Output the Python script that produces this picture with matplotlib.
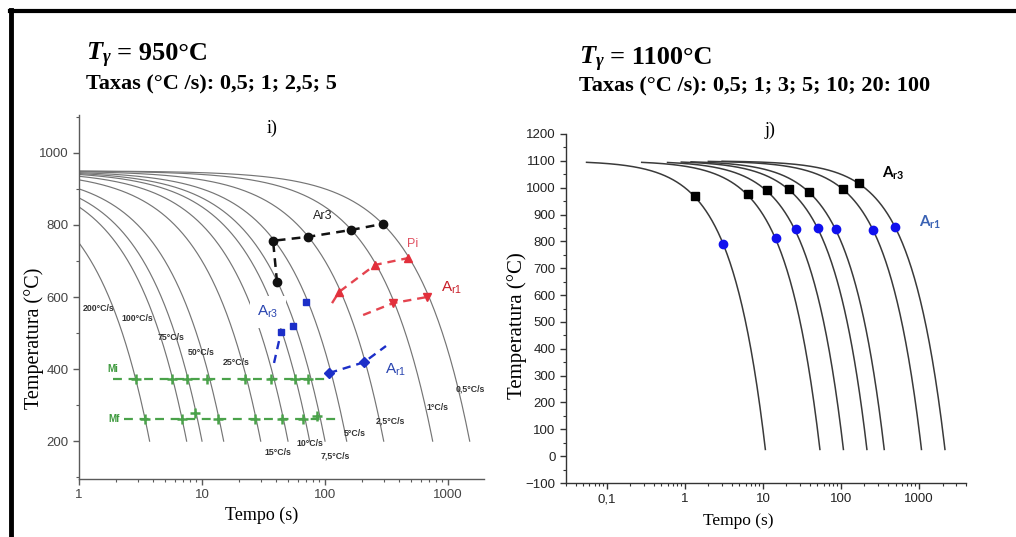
import matplotlib
matplotlib.use("Agg")
import matplotlib.pyplot as plt
import numpy as np
from matplotlib.lines import Line2D
from matplotlib.ticker import FixedLocator, FixedFormatter, LogLocator, MultipleLocator, NullFormatter

plt.rcParams.update({
    "font.family": "Liberation Sans",
    "axes.spines.top": False,
    "axes.spines.right": False,
    "xtick.direction": "out",
    "ytick.direction": "out",
})

# ---- austenitized at 950 C (CCT diagram) ----
T0_950 = 950.0
T_END_950 = 200.0
RATES_950 = [200, 100, 75, 50, 25, 15, 10, 7.5, 5, 2.5, 1, 0.5]
RATE_LABELS_950 = ["200°C/s", "100°C/s", "75°C/s", "50°C/s", "25°C/s", "15°C/s",
                   "10°C/s", "7,5°C/s", "5°C/s", "2,5°C/s", "1°C/s", "0,5°C/s"]

AR3_950_T = [40.7, 37.8, 72.8, 162.6, 296]
AR3_950_Y = [642, 756, 767, 786, 803]
PI_950_T = [130, 255, 473]
PI_950_Y = [614, 689, 708]
AR1R_950_T = [357, 675]
AR1R_950_Y = [583, 600]
AR3B_950_T = [43.9, 55.0, 70.1]
AR3B_950_Y = [503, 519, 586]
AR1B_950_T = [108, 207.5]
AR1B_950_Y = [389, 419]
MI_950 = 372
MI_950_T = [2.9, 5.7, 7.5, 11.0, 22.4, 36.5, 56.5, 72.6]
MF_950 = 261
MF_950_T = [3.44, 6.87, 8.76, 13.5, 27.0, 45.0, 66.0, 86.0]
MF_950_Y = [261, 261, 277, 261, 261, 261, 261, 269]

# ---- austenitized at 1100 C ----
T0_1100 = 1100.0
T_END_1100 = 25.0
RATES_1100 = [100, 20, 10, 5, 3, 1, 0.5]
START_1100 = [0.055, 0.28, 0.6, 0.9, 1.2, 2.0, 3.0]
AR3_1100_T = [1.34, 6.42, 11.2, 21.5, 38.9, 106, 170]
AR3_1100_Y = [969, 976, 991, 995, 984, 995, 1017]
AR1_1100_T = [3.07, 14.7, 26.5, 50.7, 86.3, 257, 491]
AR1_1100_Y = [790, 812, 846, 850, 846, 842, 853]

X_TICKS_950 = [1, 10, 100, 1000]
X_TICKLABELS_950 = ["1", "10", "100", "1000"]
X_TICKS_1100 = [0.1, 1, 10, 100, 1000]
X_TICKLABELS_1100 = ["0,1", "1", "10", "100", "1000"]

W, H = 1016, 537
fig = plt.figure(figsize=(W / 100, H / 100), dpi=100)


def px_axes(x0, x1, ytop, ybot):
    return fig.add_axes([x0 / W, 1 - ybot / H, (x1 - x0) / W, (ybot - ytop) / H])


def ftext(x, y, s, **kw):
    return fig.text(x / W, 1 - y / H, s, **kw)


def cooling(ax, t0, tstart, rate, tend, **kw):
    t = np.logspace(np.log10(tstart), np.log10((t0 - tend) / rate), 300)
    ax.plot(t, t0 - rate * t, **kw)


serif = "Liberation Serif"

# ---------------- left panel ----------------
axl = px_axes(79, 484, 115, 479)
grey = "#5a5a5a"
for r in RATES_950:
    cooling(axl, T0_950, 1.0, r, T_END_950, color="#757575", lw=0.85, zorder=1)

axl.set_xscale("log")
axl.set_xlim(1, 1960)
axl.set_ylim(95, 1105)
axl.xaxis.set_major_locator(FixedLocator(X_TICKS_950))
axl.xaxis.set_major_formatter(FixedFormatter(X_TICKLABELS_950))
axl.xaxis.set_minor_locator(LogLocator(base=10, subs=np.arange(2, 10)))
axl.xaxis.set_minor_formatter(NullFormatter())
axl.yaxis.set_major_locator(MultipleLocator(200))
axl.yaxis.set_minor_locator(MultipleLocator(100))
for sp in ("left", "bottom"):
    axl.spines[sp].set_color(grey)
    axl.spines[sp].set_linewidth(1.0)
axl.tick_params(which="major", length=4, width=1.0, color=grey, labelcolor="#444444", labelsize=9.5)
axl.tick_params(which="minor", length=2.5, width=0.8, color=grey)
ftext(262, 515, "Tempo (s)", family=serif, fontsize=13, ha="center", va="center")
ftext(34, 338, "Temperatura (°C)", family=serif, fontsize=14.5, ha="center", va="center",
      rotation=90)

lab_pos = [(1.45, 567), (2.96, 539), (5.6, 489), (9.8, 447), (18.9, 417), (41.5, 169),
           (75.5, 194), (120.5, 158), (175, 222), (337, 256), (814, 294), (1510, 344)]
for (tx, ty), s in zip(lab_pos, RATE_LABELS_950):
    axl.text(tx, ty, s, fontsize=6.3, fontweight="bold", color="#333333",
             ha="center", va="center", zorder=4)

dash = (0, (3.5, 2.5))
axl.plot(AR3_950_T, AR3_950_Y, color="#111111", lw=1.8, ls=dash, zorder=3)
axl.plot(AR3_950_T, AR3_950_Y, "o", color="#111111", ms=6, zorder=4)
axl.text(96, 825, "Ar3", fontsize=9, color="#222222", ha="center", va="center")

red = "#e2303c"
axl.plot([114] + PI_950_T, [583] + PI_950_Y, color=red, lw=1.7, ls=dash, alpha=0.9, zorder=3)
axl.plot(PI_950_T, PI_950_Y, "^", color=red, ms=6, zorder=4)
axl.text(519, 747, "Pi", fontsize=9, color="#e05060", ha="center", va="center")
axl.plot([204] + AR1R_950_T, [550] + AR1R_950_Y, color=red, lw=1.7, ls=dash, alpha=0.9, zorder=3)
axl.plot(AR1R_950_T, AR1R_950_Y, "v", color=red, ms=6, zorder=4)
axl.text(1078, 625, r"$\mathregular{A_{r1}}$", fontsize=11, color="#c81e28",
         ha="center", va="center")

blue = "#1c2fc8"
axl.plot([38.5] + AR3B_950_T[:1], [417] + AR3B_950_Y[:1], color=blue, lw=1.7, ls=dash, zorder=3)
axl.plot(AR3B_950_T, AR3B_950_Y, "s", color=blue, ms=5, zorder=4)
axl.text(34.4, 558, r"$\mathregular{A_{r3}}$", fontsize=11, color="#2a45b0",
         ha="center", va="center", zorder=5,
         bbox=dict(boxstyle="square,pad=0.5", fc="white", ec="none"))

green = "#4aa24a"
axl.plot([1.89, 110], [MI_950, MI_950], color=green, lw=1.6, ls=(0, (4, 3)), zorder=3)
axl.plot(MI_950_T, [MI_950] * len(MI_950_T), "+", color=green, ms=7, mew=1.8, zorder=4)
axl.text(1.89, 400, "Mi", fontsize=7, fontweight="bold", color="#3f9a3f", ha="center", va="center")
axl.plot([2.32, 125], [MF_950, MF_950], color=green, lw=1.6, ls=(0, (4, 3)), zorder=3)
axl.plot(MF_950_T, MF_950_Y, "+", color=green, ms=7, mew=1.8, zorder=4)
axl.text(1.93, MF_950, "Mf", fontsize=7, fontweight="bold", color="#3f9a3f", ha="center", va="center")

axl.plot(AR1B_950_T + [313], AR1B_950_Y + [464], color=blue, lw=1.7, ls=dash, zorder=3)
axl.plot(AR1B_950_T, AR1B_950_Y, "D", color=blue, ms=5.5, zorder=4)
axl.text(378, 397, r"$\mathregular{A_{r1}}$", fontsize=11, color="#2a45b0",
         ha="center", va="center")

# ---------------- right panel ----------------
axr = px_axes(566, 966, 134, 483)
dark = "#333333"
for r, ts in zip(RATES_1100, START_1100):
    cooling(axr, T0_1100, ts, r, T_END_1100, color="#3a3a3a", lw=1.1, zorder=1)
axr.plot(AR3_1100_T, AR3_1100_Y, "s", color="black", ms=6, zorder=3)
axr.plot(AR1_1100_T, AR1_1100_Y, "o", color="#1010ee", ms=6, zorder=3)
axr.text(464, 1055, r"$\mathregular{A_{r3}}$", fontsize=11, fontweight="bold",
         color="black", ha="center", va="center", family="Lato")
axr.text(1384, 872, r"$\mathregular{A_{r1}}$", fontsize=11, fontweight="bold",
         color="#3a62b4", ha="center", va="center", family="Lato")

axr.set_xscale("log")
axr.set_xlim(0.03, 4000)
axr.set_ylim(-100, 1200)
axr.xaxis.set_major_locator(FixedLocator(X_TICKS_1100))
axr.xaxis.set_major_formatter(FixedFormatter(X_TICKLABELS_1100))
axr.xaxis.set_minor_locator(LogLocator(base=10, subs=np.arange(2, 10)))
axr.xaxis.set_minor_formatter(NullFormatter())
axr.yaxis.set_major_locator(MultipleLocator(100))
axr.yaxis.set_minor_locator(MultipleLocator(50))
for sp in ("left", "bottom"):
    axr.spines[sp].set_color(dark)
    axr.spines[sp].set_linewidth(1.0)
axr.tick_params(which="major", length=4, width=1.0, color=dark, labelcolor="#222222", labelsize=9.5)
axr.tick_params(which="minor", length=2.5, width=0.8, color=dark)
ftext(738, 521, "Tempo (s)", family=serif, fontsize=12.5, ha="center", va="center")
ftext(517, 326, "Temperatura (°C)", family=serif, fontsize=15, ha="center", va="center",
      rotation=90)


# ---------------- headings ----------------
def heading(x, y1, y2, temp, rates):
    ftext(x, y1, r"$\mathregular{T_{γ}}$", family=serif, fontsize=19,
          fontweight="bold", style="italic", va="baseline")
    ftext(x + 31, y1, f"= {temp}°C", family=serif, fontsize=19,
          fontweight="bold", va="baseline")
    ftext(x, y2, f"Taxas (°C /s): {rates}", family=serif, fontsize=16,
          fontweight="bold", va="baseline")


heading(86, 60, 89, "950", "0,5; 1; 2,5; 5")
heading(579, 64, 91, "1100", "0,5; 1; 3; 5; 10; 20: 100")
ftext(272, 128, "i)", family=serif, fontsize=13, ha="center", va="center")
ftext(770, 130, "j)", family=serif, fontsize=13, ha="center", va="center")

# frame lines
fig.add_artist(Line2D([10 / W, 1], [1 - 11 / H, 1 - 11 / H], transform=fig.transFigure,
                      color="black", lw=3))
fig.add_artist(Line2D([11 / W, 11 / W], [1 - 10 / H, 0], transform=fig.transFigure,
                      color="black", lw=3.5))

fig.savefig("out.png", dpi=100, facecolor="white")
